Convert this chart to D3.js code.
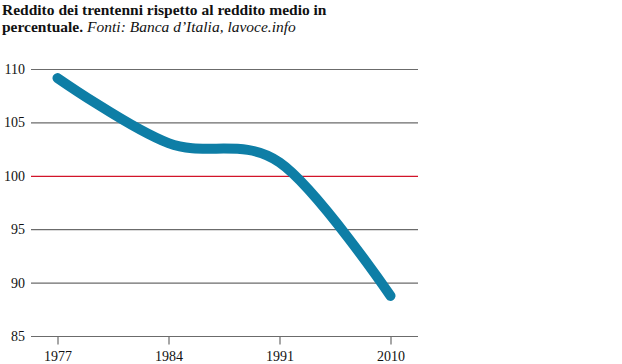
<!DOCTYPE html>
<html><head><meta charset="utf-8">
<script src="https://cdn.jsdelivr.net/npm/d3@7"></script>
<style>
body{margin:0;background:#fff;}
svg{display:block;}
text{font-family:"Liberation Serif","DejaVu Serif",serif;}
</style></head>
<body><svg id="c" width="622" height="364"></svg>
<script>
const years = ["1977","1984","1991","2010"];
const values = [109.2, 103.1, 101.3, 88.8];
const yTicks = [85, 90, 95, 100, 105, 110];
const reference = 100;
const titleLine1 = "Reddito dei trentenni rispetto al reddito medio in";
const titleBold2 = "percentuale.";
const titleItalic2 = "Fonti: Banca d\u2019Italia, lavoce.info";

const FONT = "'Liberation Serif', 'DejaVu Serif', serif";
const svg = d3.select("#c");
const x = d3.scalePoint().domain(years).range([57.5, 390.5]);
const y = d3.scaleLinear().domain([85, 110]).range([336.5, 69.5]);
const gridX0 = 31, gridX1 = 418;

// title
const t = svg.append("text").attr("x", 2).attr("y", 15).attr("font-size", 15.5)
  .attr("font-family", FONT).attr("fill", "#111");
t.append("tspan").attr("font-weight", "bold").text(titleLine1);
const t2 = svg.append("text").attr("x", 2).attr("y", 32).attr("font-size", 15.5)
  .attr("font-family", FONT).attr("fill", "#111");
t2.append("tspan").attr("font-weight", "bold").text(titleBold2);
t2.append("tspan").attr("font-style", "italic").attr("dx", 4).text(titleItalic2);

// gridlines
svg.append("g").selectAll("line").data(yTicks).join("line")
  .attr("x1", gridX0).attr("x2", gridX1)
  .attr("y1", d => y(d)).attr("y2", d => y(d))
  .attr("stroke", d => d === reference ? "#d2142a" : "#6b6b6b")
  .attr("stroke-width", d => d === reference ? 1.3 : 1.2);

// y labels
svg.append("g").selectAll("text").data(yTicks).join("text")
  .attr("x", 25).attr("y", d => y(d)).attr("dy", "0.32em")
  .attr("text-anchor", "end").attr("font-size", 14).attr("fill", "#111")
  .attr("font-family", FONT)
  .text(d => d);

// x axis
const xa = svg.append("g").attr("transform", `translate(0,${y(85)})`)
  .call(d3.axisBottom(x).tickSize(8).tickPadding(7));
xa.attr("font-family", FONT);
xa.select(".domain").remove();
xa.selectAll(".tick line").attr("stroke", "#6b6b6b").attr("stroke-width", 1.2);
xa.selectAll(".tick text").attr("font-size", 14).attr("fill", "#111")
  .attr("font-family", FONT);

// line
const line = d3.line().x((d, i) => x(years[i])).y(d => y(d)).curve(d3.curveCardinal.tension(0));
svg.append("path").datum(values).attr("d", line)
  .attr("fill", "none").attr("stroke", "#0e7ea6").attr("stroke-width", 10)
  .attr("stroke-linecap", "round").attr("stroke-linejoin", "round");
</script></body></html>
